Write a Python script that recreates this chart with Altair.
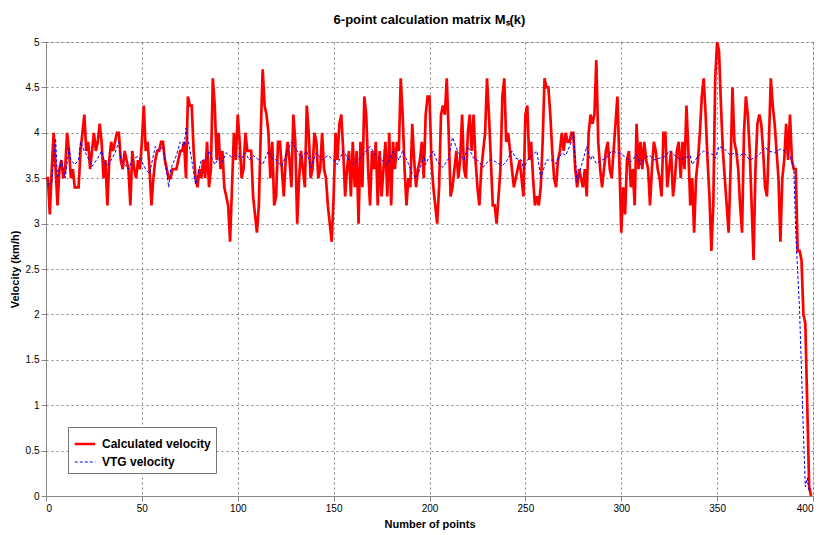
import altair as alt
import pandas as pd

# Calculated velocity (km/h), one value per point index 0..399
red = [
    3.5, 3.5, 3.1, 3.6, 4.0, 3.6, 3.2, 3.6, 3.7, 3.5,
    3.6, 4.0, 3.8, 3.5, 3.6, 3.4, 3.4, 3.4, 3.8, 4.0,
    4.2, 3.8, 3.9, 3.6, 3.8, 4.0, 3.8, 3.9, 4.1, 3.9,
    3.5, 3.7, 3.2, 3.7, 3.9, 3.8, 3.9, 4.0, 4.0, 3.7,
    3.6, 3.8, 3.7, 3.6, 3.2, 3.8, 3.6, 3.5, 3.7, 3.6,
    3.9, 4.3, 3.8, 3.9, 3.6, 3.2, 3.5, 3.7, 3.8, 3.8,
    3.9, 3.9, 3.7, 3.6, 3.5, 3.5, 3.6, 3.6, 3.6, 3.7,
    3.8, 3.8, 3.9, 3.5, 4.4, 4.3, 4.3, 3.8, 3.5, 3.4,
    3.6, 3.5, 3.7, 3.5, 3.9, 3.4, 3.6, 4.6, 4.3, 3.7,
    4.0, 3.6, 3.8, 3.4, 3.3, 3.2, 2.8, 3.4, 4.0, 3.7,
    4.2, 3.9, 3.5, 3.6, 4.0, 3.8, 3.8, 3.8, 3.3, 3.1,
    2.9, 3.2, 4.0, 4.7, 4.3, 4.2, 4.0, 3.5, 3.9, 3.2,
    3.3, 3.9, 3.9, 3.6, 3.3, 3.7, 3.9, 3.7, 3.4, 4.2,
    3.9, 3.0, 3.5, 3.8, 3.6, 3.4, 4.3, 4.0, 3.5, 3.6,
    4.0, 3.9, 3.5, 3.6, 4.0, 3.6, 3.5, 3.2, 3.0, 2.8,
    3.3, 4.0, 3.7, 4.1, 4.2, 3.8, 3.3, 3.6, 3.8, 3.3,
    3.9, 3.4, 3.8, 3.0, 3.9, 3.4, 4.4, 4.2, 3.6, 3.2,
    3.8, 3.6, 3.9, 3.2, 3.8, 3.3, 3.6, 3.9, 3.3, 4.0,
    3.2, 3.9, 3.6, 3.9, 3.8, 4.6, 4.2, 3.6, 3.2, 3.5,
    3.4, 4.1, 3.7, 3.4, 3.6, 3.7, 3.9, 3.5, 4.2, 4.4,
    4.4, 3.7, 3.4, 3.2, 3.0, 3.4, 4.2, 4.3, 4.2, 4.6,
    4.0, 3.3, 3.4, 3.6, 3.8, 3.5, 3.7, 4.2, 3.6, 3.5,
    4.0, 4.2, 3.8, 4.2, 3.7, 3.4, 3.2, 3.6, 3.8, 4.0,
    4.6, 4.2, 3.7, 3.2, 3.2, 3.0, 3.3, 3.6, 4.4, 4.6,
    3.9, 4.0, 3.8, 3.6, 3.4, 3.5, 3.6, 3.7, 3.5, 3.3,
    4.2, 4.3, 3.7, 3.9, 3.5, 3.2, 3.3, 3.2, 3.4, 3.9,
    4.6, 4.5, 4.5, 4.2, 3.8, 3.5, 3.4, 3.7, 3.8, 4.0,
    3.8, 4.0, 3.9, 3.9, 4.0, 4.0, 3.6, 3.4, 3.6, 3.5,
    3.4, 3.6, 3.3, 4.0, 4.2, 4.1, 4.2, 4.8, 3.9, 3.6,
    3.4, 3.6, 3.8, 3.9, 3.6, 3.5, 3.8, 4.1, 4.4, 3.7,
    2.9, 3.4, 3.1, 3.7, 3.8, 3.4, 3.6, 3.2, 4.1, 3.6,
    3.9, 3.6, 3.9, 3.7, 3.6, 3.2, 3.6, 3.9, 3.8, 3.6,
    3.5, 3.3, 4.0, 4.0, 3.4, 3.6, 3.8, 3.3, 3.5, 3.8,
    3.9, 3.5, 3.9, 3.6, 4.3, 3.8, 3.2, 3.5, 2.9, 3.5,
    3.7, 4.0, 4.4, 4.6, 4.2, 3.7, 3.3, 2.7, 3.2, 4.6,
    5.0, 4.9, 4.3, 3.8, 3.5, 3.2, 2.9, 3.6, 4.5, 3.9,
    3.8, 3.6, 3.2, 2.9, 4.0, 4.4, 4.2, 3.8, 3.2, 2.6,
    3.6, 4.1, 4.2, 4.1, 3.8, 3.4, 3.3, 3.9, 4.6, 4.3,
    4.1, 3.8, 3.5, 2.8, 3.5, 3.7, 4.1, 3.7, 4.2, 3.7,
    3.6, 3.6, 2.7, 2.7, 2.6, 2.0, 1.9, 1.0, 0.1, 0.0,
]

# VTG velocity (km/h), read at these point indices
blue_x = [
    1, 3, 4, 5, 6, 8, 10, 12, 13, 15, 17, 18, 20, 22, 24, 25, 27, 29, 31, 32,
    34, 36, 38, 39, 41, 43, 45, 46, 48, 50, 52, 54, 57, 59, 61, 64, 65, 68, 70, 72,
    73, 76, 78, 81, 84, 85, 88, 90, 92, 94, 97, 99, 102, 104, 106, 108, 110, 113, 116, 118,
    120, 123, 125, 128, 131, 133, 136, 138, 141, 144, 147, 150, 152, 155, 158, 160, 163, 165, 169, 172,
    175, 178, 181, 184, 186, 189, 191, 193, 195, 197, 198, 199, 202, 204, 207, 210, 212, 215, 218, 220,
    223, 225, 228, 231, 233, 236, 238, 240, 243, 245, 248, 249, 251, 256, 258, 261, 264, 266, 269, 271,
    274, 275, 277, 279, 282, 284, 285, 287, 290, 292, 295, 298, 299, 303, 305, 308, 310, 312, 315, 317,
    320, 323, 325, 328, 331, 333, 336, 337, 340, 343, 345, 348, 349, 351, 354, 357, 359, 362, 364, 367,
    370, 372, 375, 377, 380, 383, 385, 388, 390, 391, 393, 395, 396, 397, 398,
]
blue_v = [
    3.43, 3.45, 3.70, 3.94, 3.50, 3.70, 3.50, 3.83, 3.70, 3.65, 3.70, 3.90, 3.80, 3.72, 3.63, 3.66, 3.72, 3.80, 3.65, 3.64,
    3.70, 3.78, 3.90, 3.70, 3.65, 3.60, 3.70, 3.72, 3.74, 3.68, 3.60, 3.55, 3.85, 3.80, 3.85, 3.40, 3.60, 3.75, 3.90, 3.85,
    4.05, 3.70, 3.43, 3.70, 3.70, 3.80, 3.65, 3.72, 3.68, 3.78, 3.73, 3.76, 3.72, 3.78, 3.70, 3.75, 3.72, 3.65, 3.80, 3.72,
    3.70, 3.63, 3.75, 3.90, 3.80, 3.72, 3.80, 3.62, 3.78, 3.70, 3.75, 3.70, 3.65, 3.80, 3.70, 3.66, 3.70, 3.75, 3.85, 3.75,
    3.70, 3.65, 3.80, 3.70, 3.80, 3.66, 3.55, 3.50, 3.60, 3.75, 3.65, 3.70, 3.80, 3.68, 3.62, 3.72, 3.95, 3.78, 3.70, 3.85,
    3.72, 3.70, 3.62, 3.70, 3.70, 3.66, 3.64, 3.68, 3.80, 3.72, 3.70, 3.60, 3.70, 3.80, 3.50, 3.70, 3.70, 3.66, 3.78, 3.75,
    3.90, 4.00, 3.45, 3.62, 3.85, 3.70, 3.75, 3.66, 3.70, 3.72, 3.80, 3.78, 3.78, 3.72, 3.68, 3.76, 3.65, 3.72, 3.75, 3.70,
    3.72, 3.74, 3.80, 3.75, 3.70, 3.72, 3.75, 3.65, 3.74, 3.80, 3.78, 3.76, 3.72, 3.85, 3.82, 3.75, 3.78, 3.75, 3.78, 3.70,
    3.73, 3.76, 3.84, 3.80, 3.78, 3.82, 3.80, 3.75, 3.60, 2.90, 2.05, 0.69, 0.10, 0.20, 0.05,
]

SERIES = ["Calculated velocity", "VTG velocity"]
COLORS = ["#ff0000", "#0000ff"]
X_TICKS = [0, 50, 100, 150, 200, 250, 300, 350, 400]
Y_TICKS = [0, 0.5, 1, 1.5, 2, 2.5, 3, 3.5, 4, 4.5, 5]

df = pd.concat([
    pd.DataFrame({"x": list(range(len(red))), "v": red, "series": SERIES[0]}),
    pd.DataFrame({"x": blue_x, "v": blue_v, "series": SERIES[1]}),
], ignore_index=True)

FONT = "Liberation Sans"
GRID = dict(grid=True, gridColor="#333333", gridOpacity=0.6, gridDash=[2, 3], gridWidth=1)

legend = alt.Legend(
    title=None, orient="none", legendX=22, legendY=385,
    fillColor="white", strokeColor="#777777", padding=5,
    labelFont=FONT, labelFontSize=12, labelFontWeight="bold", labelColor="black",
    labelOffset=5, symbolType="stroke", symbolSize=420, rowPadding=1,
)

chart = alt.Chart(df).mark_line(clip=True).encode(
    x=alt.X("x:Q",
            scale=alt.Scale(domain=[0, 400], nice=False, zero=False),
            axis=alt.Axis(values=X_TICKS, title="Number of points", format="d",
                          titleX=383.5, titleY=28, titleBaseline="middle", **GRID)),
    y=alt.Y("v:Q",
            scale=alt.Scale(domain=[0, 5], nice=False),
            axis=alt.Axis(values=Y_TICKS, title="Velocity (km/h)", format="~g",
                          titleX=-31, titleY=227, titleAngle=270,
                          titleAlign="center", titleBaseline="middle", **GRID)),
    color=alt.Color("series:N", scale=alt.Scale(domain=SERIES, range=COLORS), legend=legend),
    strokeDash=alt.StrokeDash("series:N", scale=alt.Scale(domain=SERIES, range=[[1, 0], [3, 2]]), legend=legend),
    strokeWidth=alt.StrokeWidth("series:N", scale=alt.Scale(domain=SERIES, range=[2.7, 1.0]), legend=legend),
    order=alt.Order("x:Q"),
).properties(
    width=767, height=454,
    autosize=alt.AutoSizeParams(type="none"),
    padding={"left": 38, "top": 34, "right": 5, "bottom": 35},
    title=alt.Title("6-point calculation matrix Mₛ(k)", font=FONT, fontSize=13,
                    fontWeight="bold", color="black", anchor="middle", offset=10),
).configure_view(
    stroke="#555555", strokeWidth=1,
).configure_axis(
    domain=False, ticks=False,
    labelFont=FONT, labelFontSize=12, labelFontWeight="bold", labelColor="black",
    titleFont=FONT, titleFontSize=11.5, titleFontWeight="bold", titleColor="black",
    labelPadding=5,
).configure(background="white")

chart.save("out.html", embed_options={"renderer": "svg", "actions": False})
